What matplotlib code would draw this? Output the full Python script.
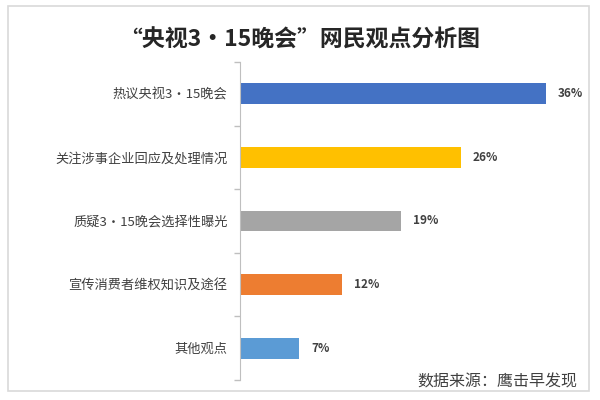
import matplotlib
matplotlib.use("Agg")
import matplotlib.pyplot as plt
from matplotlib.patches import Rectangle

plt.rcParams['font.family'] = ['Noto Sans CJK SC', 'DejaVu Sans']

# data, top to bottom as shown
categories = ["热议央视3·15晚会", "关注涉事企业回应及处理情况", "质疑3·15晚会选择性曝光",
              "宣传消费者维权知识及途径", "其他观点"]
values = [36, 26, 19, 12, 7]
colors = ["#4472C4", "#FFC000", "#A5A5A5", "#ED7D31", "#5B9BD5"]

fig = plt.figure(figsize=(6, 4), dpi=100)

# outer frame of the chart
fig.patches.append(Rectangle((0.013, 0.022), 0.969, 0.963, transform=fig.transFigure,
                             fill=False, edgecolor="#D9D9D9", linewidth=1.2))

ax = fig.add_axes([0.4, 0.05, 0.566, 0.795])
pos = list(range(len(categories)))
ax.barh(pos, values, height=0.33, color=colors)
ax.set_ylim(len(categories) - 0.5, -0.5)
ax.set_xlim(0, 40)

for p, v in zip(pos, values):
    ax.text(v + 1.4, p, f"{v}%", va="center", ha="left", fontsize=8.5,
            fontweight="bold", color="#404040")

ax.set_yticks(pos)
ax.set_yticklabels(categories, fontsize=9.5, color="#404040")
ax.set_yticks([i - 0.5 for i in range(len(categories) + 1)], minor=True)
ax.tick_params(axis="y", which="major", length=0, pad=9)
ax.tick_params(axis="y", which="minor", length=4, color="#BFBFBF", width=1)
ax.set_xticks([])
for s in ["top", "right", "bottom"]:
    ax.spines[s].set_visible(False)
ax.spines["left"].set_color("#BFBFBF")

fig.text(0.5, 0.9, "“央视3·15晚会”网民观点分析图", ha="center", va="center",
         fontsize=16.5, fontweight="bold", color="#262626")
fig.text(0.963, 0.045, "数据来源：鹰击早发现", ha="right", va="center",
         fontsize=11.5, fontweight="medium", color="#404040")

fig.savefig("out.png", dpi=100)
